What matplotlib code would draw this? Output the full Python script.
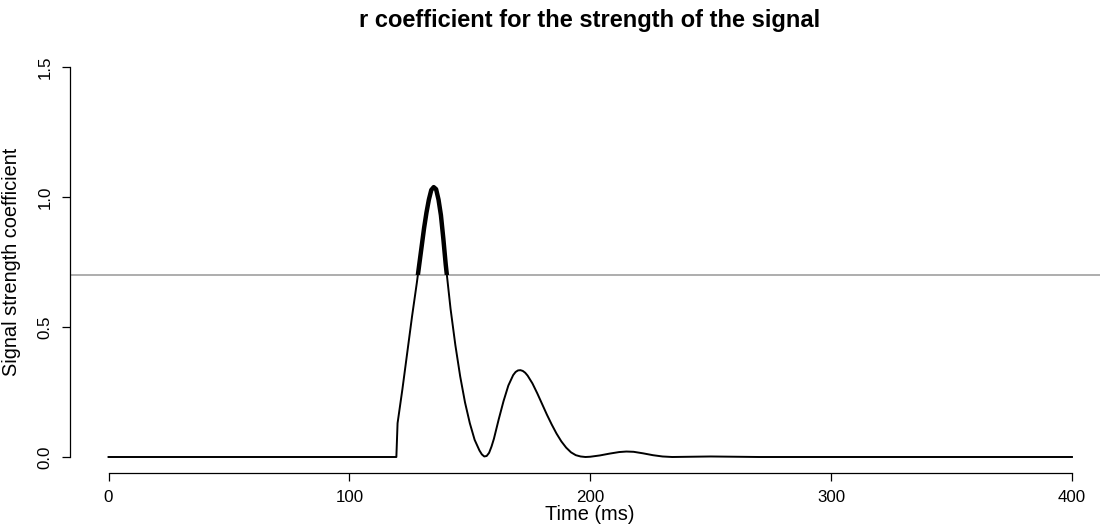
import numpy as np
import matplotlib
matplotlib.use('Agg')
import matplotlib.pyplot as plt
from matplotlib.patches import Rectangle

plt.rcParams['font.family'] = ['Liberation Sans', 'DejaVu Sans']

# signal strength coefficient
time_ms = [0, 119.5, 120, 122, 124, 126, 128, 130, 131, 132, 133, 134, 135, 136, 137, 138,
           139, 140, 142, 144, 146, 148, 150, 152, 154, 155, 156, 157, 158, 159, 160, 162,
           164, 166, 168, 169, 170, 171, 172, 173, 174, 176, 178, 180, 182, 184, 186, 188,
           190, 192, 194, 196, 198, 200, 204, 208, 212, 215, 218, 222, 226, 230, 234, 250,
           260, 270, 400]
r_coef = [0, 0, 0.13, 0.26, 0.40, 0.54, 0.67, 0.81, 0.88, 0.94, 0.99, 1.027, 1.038, 1.03, 0.99, 0.93,
          0.84, 0.74, 0.57, 0.43, 0.31, 0.21, 0.13, 0.066, 0.025, 0.01, 0.002, 0.004, 0.016, 0.04, 0.07, 0.145,
          0.215, 0.275, 0.315, 0.327, 0.333, 0.334, 0.331, 0.324, 0.313, 0.283, 0.245, 0.204, 0.163, 0.125, 0.09, 0.06,
          0.036, 0.018, 0.007, 0.002, 0.0, 0.001, 0.006, 0.013, 0.019, 0.021, 0.020, 0.014, 0.007, 0.002, 0.0, 0.002,
          0.001, 0, 0]
threshold = 0.7

x_ticks = [0, 100, 200, 300, 400]
y_ticks = [0.0, 0.5, 1.0, 1.5]

W, H = 1100, 524
fig = plt.figure(figsize=(W / 100, H / 100), dpi=100)
ax = fig.add_axes([70 / W, (H - 472.6) / H, 1040.5 / W, (472.6 - 51.4) / H])
ax.set_xlim(-16, 416)
ax.set_ylim(-0.06, 1.56)

ax.axhline(threshold, color='#a0a0a0', lw=1.2, zorder=1)
ax.plot(time_ms, r_coef, color='black', lw=1.4, zorder=2)

# thicker segment above the threshold
thick, = ax.plot(time_ms, r_coef, color='black', lw=3.2, zorder=3, solid_capstyle='butt')
clip = Rectangle((-16, threshold), 432, 1.0, transform=ax.transData)
thick.set_clip_path(clip)

for s in ['top', 'right']:
    ax.spines[s].set_visible(False)
ax.spines['left'].set_bounds(0, 1.5)
ax.spines['bottom'].set_bounds(0, 400)
ax.spines['left'].set_linewidth(0.9)
ax.spines['bottom'].set_linewidth(0.9)

ax.set_xticks(x_ticks)
ax.set_xticklabels([str(t) for t in x_ticks])
ax.set_yticks(y_ticks)
ax.set_yticklabels(['%.1f' % t for t in y_ticks], rotation=90, va='center')
ax.tick_params(direction='out', length=6, width=0.9, labelsize=12.2, pad=6.5)

ax.set_xlabel('Time (ms)', fontsize=14.4, va='center')
ax.set_ylabel('Signal strength coefficient', fontsize=14.4, va='center')
ax.xaxis.set_label_coords(590 / W, 1 - 514 / H, transform=fig.transFigure)
ax.yaxis.set_label_coords(12 / W, 1 - 262 / H, transform=fig.transFigure)
fig.text(590 / W, 1 - 21 / H, 'r coefficient for the strength of the signal',
         ha='center', va='center', fontsize=17, fontweight='bold')

fig.savefig('out.png', dpi=100)
